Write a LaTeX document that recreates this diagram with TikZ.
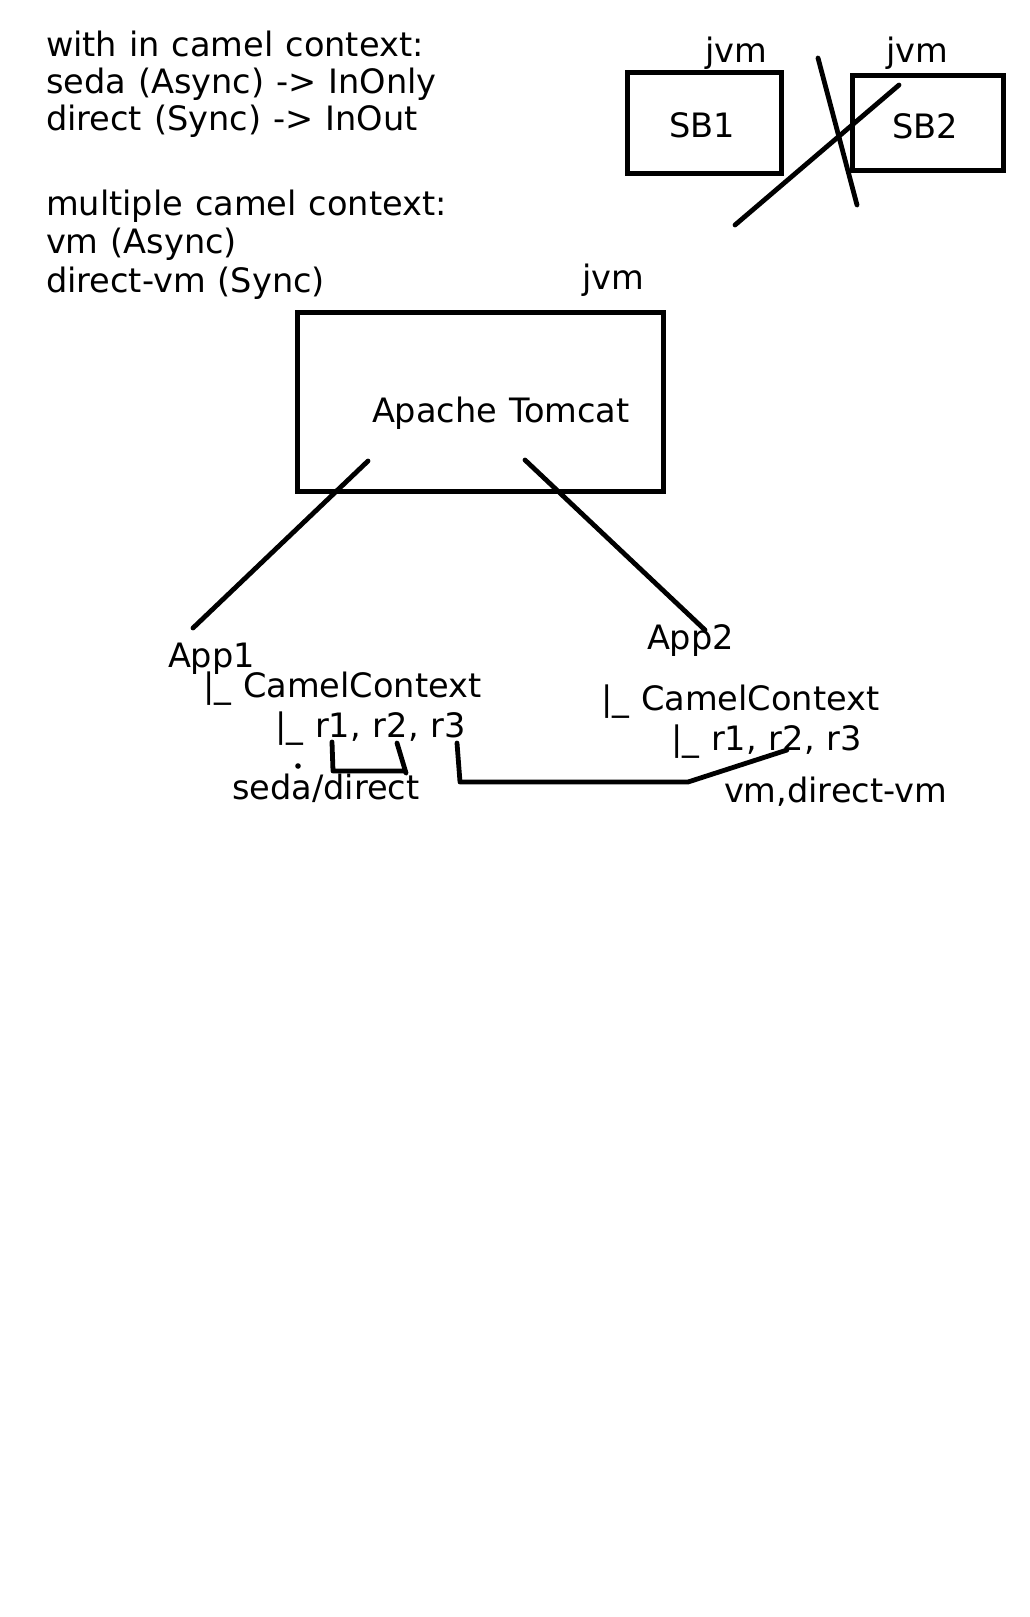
\documentclass[tikz,border=0pt]{standalone}
\usepackage{fontspec}
\setmainfont{DejaVu Sans}[WordSpace=1.12]
\begin{document}
\begin{tikzpicture}[x=1pt,y=-1pt,
  txt/.style={anchor=base west,inner sep=0pt,outer sep=0pt,font=\fontsize{33.6}{40}\selectfont},
  boxy/.style={draw,line width=5pt,inner sep=0pt,outer sep=0pt},
  wire/.style={line width=4.8pt,line cap=round,line join=round}]
\useasboundingbox[fill=white] (0,0) rectangle (1030,1617);
% left notes
\node[txt] (t1) at (46,56) {with in camel context:};
\node[txt] (t2) at (46,93) {seda (Async) -> InOnly};
\node[txt] (t3) at (46,130) {direct (Sync) -> InOut};
\node[txt] (t4) at (46,215) {multiple camel context:};
\node[txt] (t5) at (46,253) {vm (Async)};
\node[txt] (t6) at (46,292) {direct-vm (Sync)};
% SB boxes
\node[boxy,minimum width=154pt,minimum height=101pt] (sb1) at (704,122.5) {};
\node[txt,anchor=base] (sb1t) at (702,137) {SB1};
\node[txt] (jvm1) at (705,62) {jvm};
\node[boxy,minimum width=151pt,minimum height=95pt] (sb2) at (927.5,122.5) {};
\node[txt,anchor=base] (sb2t) at (925,138) {SB2};
\node[txt] (jvm2) at (886,62) {jvm};
\coordinate (x1a) at (818,58);
\coordinate (x1b) at (857,205);
\coordinate (x2a) at (899,85);
\coordinate (x2b) at (735,225);
\draw[wire] (x1a) -- (x1b);
\draw[wire] (x2a) -- (x2b);
% Tomcat
\node[txt] (jvm3) at (582,289) {jvm};
\node[boxy,minimum width=366pt,minimum height=179pt] (tomcat) at (480,401.5) {};
\node[txt] (tomt) at (372,422) {Apache Tomcat};
\coordinate (ta) at (368,461);
\coordinate (tb) at (525,460);
% App1
\node[txt] (app1) at (168,667) {App1};
\node[txt] (cc1) at (203,697) {|\_ CamelContext};
\node[txt] (rr1) at (275,737) {|\_ r1, r2, r3};
\node[txt] (sd) at (232,799) {seda/direct};
\fill (298,766) circle (2.8);
\coordinate (a1) at (193,628);
\draw[wire] (ta) -- (a1);
% App2
\node[txt] (app2) at (647,649) {App2};
\node[txt] (cc2) at (601,710) {|\_ CamelContext};
\node[txt] (rr2) at (671,750) {|\_ r1, r2, r3};
\node[txt] (vd) at (724,802) {vm,direct-vm};
\coordinate (a2) at (705,630);
\draw[wire] (tb) -- (a2);
% brackets
\coordinate (b1) at (332,742);
\coordinate (b2) at (333,771);
\coordinate (b3) at (405,771);
\coordinate (b4) at (397,743);
\coordinate (b5) at (406,773);
\draw[wire] (b1) -- (b2) -- (b3);
\draw[wire] (b4) -- (b5);
\coordinate (c1) at (457,743);
\coordinate (c2) at (460,782);
\coordinate (c3) at (688,782);
\coordinate (c4) at (787,750);
\draw[wire] (c1) -- (c2) -- (c3) -- (c4);
\end{tikzpicture}
\end{document}
